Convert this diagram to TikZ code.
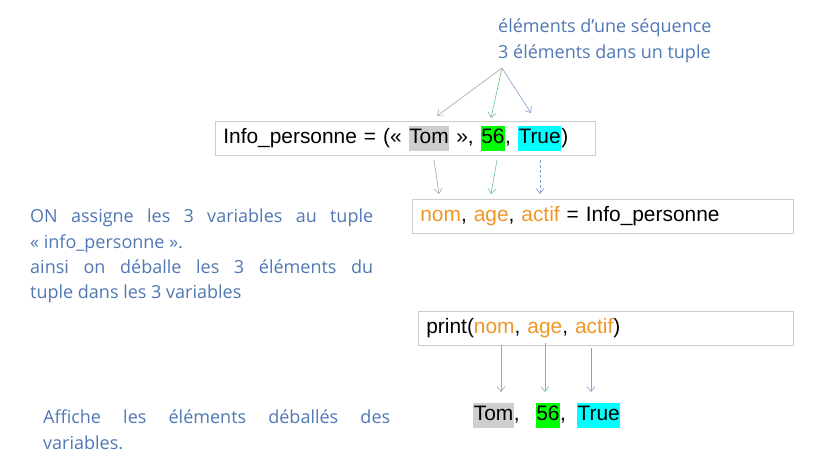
\documentclass[tikz,border=0pt]{standalone}
\usepackage{fontspec}
\setmainfont{Liberation Sans}
\newfontfamily\hand{Open Sans}
\usetikzlibrary{arrows.meta}
\definecolor{boxline}{RGB}{205,205,205}
\definecolor{hgrey}{RGB}{206,206,206}
\definecolor{hgreen}{RGB}{0,255,0}
\definecolor{hcyan}{RGB}{0,255,255}
\definecolor{vorange}{RGB}{240,150,40}
\definecolor{handblue}{RGB}{80,120,180}
\definecolor{agrey}{RGB}{165,165,170}
\definecolor{agreen}{RGB}{110,195,150}
\definecolor{ablue}{RGB}{130,160,205}
\newcommand\hlt[2]{{\setlength{\fboxsep}{0.6pt}\colorbox{#1}{\strut #2}}}
\newcommand\vor[1]{\textcolor{vorange}{#1}}
\begin{document}
\begin{tikzpicture}[x=1pt,y=-1pt,
  codebox/.style={draw=boxline, line width=0.7pt, anchor=north west, minimum height=34pt, inner xsep=8pt, inner ysep=0pt, align=left, font=\fontsize{20.9}{24}\selectfont},
  note/.style={anchor=north west, inner sep=0pt, text=handblue, font=\hand\fontsize{18}{25.3}\selectfont},
  arr/.style={line width=0.6pt, -{Straight Barb[length=5pt,width=8pt]}}]
\useasboundingbox[fill=white] (0,0) rectangle (816,472);
% top note
\node[note, align=left] (top) at (498,19) {éléments d’une séquence\\3 éléments dans un tuple};
\coordinate (src) at (502,68);
% box 1
\node[codebox, minimum width=380pt, text width=364pt] (b1) at (215,121)
  {Info\_personne = (« \hlt{hgrey}{Tom} », \hlt{hgreen}{56}, \hlt{hcyan}{True})};
\coordinate (t1) at (437,116);
\coordinate (t2) at (491,118);
\coordinate (t3) at (531,113);
\draw[arr, agrey] (src) -- (t1);
\draw[arr, agreen] (src) -- (t2);
\draw[arr, ablue] (src) -- (t3);
% box 2
\node[codebox, minimum width=381pt, text width=365pt] (b2) at (412,199)
  {\vor{nom}, \vor{age}, \vor{actif} = Info\_personne};
\coordinate (m1s) at (434,160); \coordinate (m1e) at (439,194);
\coordinate (m2s) at (497,160); \coordinate (m2e) at (491,194);
\coordinate (m3s) at (540,160); \coordinate (m3e) at (540,194);
\draw[arr, agrey] (m1s) -- (m1e);
\draw[arr, agreen] (m2s) -- (m2e);
\draw[arr, ablue, dashed, dash pattern=on 3pt off 2pt] (m3s) -- (m3e);
% left note
\node[note, text width=343pt, align=justify] (left) at (30,209)
  {ON assigne les 3 variables au tuple\linebreak « info\_personne ».\\ainsi on déballe les 3 éléments du\linebreak tuple dans les 3 variables};
% box 3
\node[codebox, minimum width=375pt, text width=359pt] (b3) at (418,311)
  {print(\vor{nom}, \vor{age}, \vor{actif})};
% result
\node[anchor=north west, inner sep=0pt, font=\fontsize{20.9}{24}\selectfont] (res) at (473,403)
  {\hlt{hgrey}{Tom},\hspace{16pt}\hlt{hgreen}{56},\hspace{11pt}\hlt{hcyan}{True}};
\coordinate (r1s) at (501,345); \coordinate (r1e) at (501,392);
\coordinate (r2s) at (545,343); \coordinate (r2e) at (545,392);
\coordinate (r3s) at (591,348); \coordinate (r3e) at (591,392);
\draw[arr, agrey] (r1s) -- (r1e);
\draw[arr, agreen] (r2s) -- (r2e);
\draw[arr, ablue] (r3s) -- (r3e);
% bottom note
\node[note, text width=347pt, align=justify] (bottom) at (43,410)
  {Affiche les éléments déballés des\linebreak variables.};
\end{tikzpicture}
\end{document}
